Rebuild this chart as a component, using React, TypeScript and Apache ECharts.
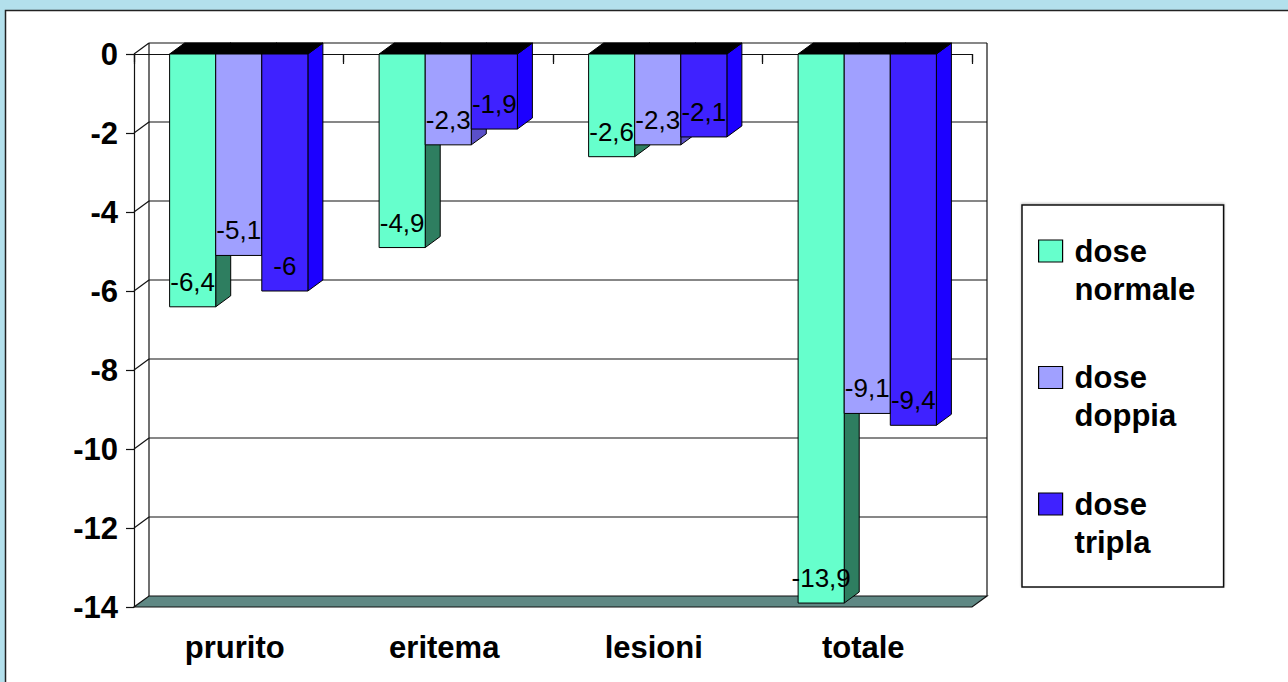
import React, { useEffect, useRef } from 'react';
import * as echarts from 'echarts';

const categories = ['prurito', 'eritema', 'lesioni', 'totale'];
const seriesNames = ['dose normale', 'dose doppia', 'dose tripla'];
const doseNormale = [-6.4, -4.9, -2.6, -13.9];
const doseDoppia = [-5.1, -2.3, -2.3, -9.1];
const doseTripla = [-6, -1.9, -2.1, -9.4];
const yTicks = [0, -2, -4, -6, -8, -10, -12, -14];

const seriesValues = [doseNormale, doseDoppia, doseTripla];
const frontColors = ['#66FFCC', '#A0A0FF', '#3F22FF'];
const sideColors = ['#2E7E60', '#5A50C8', '#1C00FF'];

const DX = 15;
const DY = -11;
const FONT = "'Liberation Sans', Arial, Helvetica, sans-serif";

const fmt = (v: number) => String(v).replace('.', ',');

function makeBarRender(si: number) {
  return (params: any, api: any) => {
    const cat = api.value(0);
    const val = api.value(1);
    const base = api.coord([cat, 0]);
    const end = api.coord([cat, val]);
    const catW = api.size([1, 0])[0];
    const bw = catW * 0.22;
    const x0 = base[0] - 1.5 * bw + si * bw;
    const x1 = x0 + bw;
    const y0 = base[1];
    const y1 = end[1];
    return {
      type: 'group',
      children: [
        {
          type: 'polygon',
          shape: { points: [[x1, y0], [x1 + DX, y0 + DY], [x1 + DX, y1 + DY], [x1, y1]] },
          style: { fill: sideColors[si], stroke: '#000', lineWidth: 1 },
        },
        {
          type: 'polygon',
          shape: { points: [[x0, y0], [x1, y0], [x1 + DX, y0 + DY], [x0 + DX, y0 + DY]] },
          style: { fill: '#000', stroke: '#000', lineWidth: 1 },
        },
        {
          type: 'rect',
          shape: { x: x0, y: y0, width: bw, height: y1 - y0 },
          style: { fill: frontColors[si], stroke: '#000', lineWidth: 1 },
        },
        {
          type: 'text',
          z2: 100,
          style: {
            text: fmt(val),
            x: (x0 + x1) / 2,
            y: y1 - 25,
            align: 'center',
            verticalAlign: 'middle',
            fontSize: 26,
            fontFamily: FONT,
            fill: '#000',
          },
        },
      ],
    };
  };
}

function renderWalls(params: any, api: any) {
  const cs = params.coordSys;
  const left = cs.x;
  const right = cs.x + cs.width;
  const v = api.value(1);
  const y = api.coord([0, v])[1];
  const children: any[] = [];
  const lineStyle = { stroke: '#111', lineWidth: 1.2 };
  const isFloor = v === yTicks[yTicks.length - 1];
  if (!isFloor) {
    children.push({
      type: 'line',
      shape: { x1: left + DX, y1: y + DY, x2: right + DX, y2: y + DY },
      style: lineStyle,
    });
    children.push({
      type: 'line',
      shape: { x1: left, y1: y, x2: left + DX, y2: y + DY },
      style: lineStyle,
    });
  } else {
    const top = cs.y;
    children.push({
      type: 'line',
      shape: { x1: left + DX, y1: top + DY, x2: left + DX, y2: y + DY },
      style: lineStyle,
    });
    children.push({
      type: 'line',
      shape: { x1: right + DX, y1: top + DY, x2: right + DX, y2: y + DY },
      style: lineStyle,
    });
    children.push({
      type: 'polygon',
      shape: { points: [[left, y], [right, y], [right + DX, y + DY], [left + DX, y + DY]] },
      style: { fill: '#5F8884', stroke: '#111', lineWidth: 1.2 },
    });
  }
  return { type: 'group', children };
}

export default function App() {
  const ref = useRef<HTMLDivElement>(null);
  useEffect(() => {
    if (!ref.current) return;
    const chart = echarts.init(ref.current, null, { renderer: 'svg' });
    const barSeries = seriesValues.map((vals, si) => ({
      type: 'custom',
      name: seriesNames[si],
      z: 2,
      itemStyle: { color: frontColors[si] },
      renderItem: makeBarRender(si),
      encode: { x: 0, y: 1 },
      data: vals.map((v, i) => [i, v]),
    }));
    chart.setOption({
      animation: false,
      backgroundColor: '#B3E0EC',
      graphic: {
        elements: [
          {
            type: 'rect',
            z: -10,
            shape: { x: 5.5, y: 10.5, width: 1300, height: 700 },
            style: { fill: '#fff', stroke: '#222', lineWidth: 1.5 },
          },
        ],
      },
      grid: { left: 134, right: 316, top: 54, bottom: 75, containLabel: false },
      xAxis: [
        {
          type: 'category',
          data: categories,
          position: 'bottom',
          axisLine: { show: false },
          axisTick: { show: true, length: 10, lineStyle: { color: '#111', width: 1.2 } },
          axisLabel: {
            show: true,
            margin: 25,
            fontSize: 31,
            fontWeight: 'bold',
            fontFamily: FONT,
            color: '#000',
            padding: [0, 8, 0, 0],
          },
          splitLine: { show: false },
        },
        {
          type: 'category',
          data: categories,
          position: 'top',
          axisLine: { show: true, lineStyle: { color: '#111', width: 1.2 } },
          axisTick: { show: true, inside: true, length: 8, lineStyle: { color: '#111', width: 1.2 } },
          axisLabel: { show: false },
          splitLine: { show: false },
        },
      ],
      yAxis: {
        type: 'value',
        min: -14,
        max: 0,
        interval: 2,
        axisLine: { show: true, lineStyle: { color: '#111', width: 1.2 } },
        axisTick: { show: true, length: 8, lineStyle: { color: '#111', width: 1.2 } },
        axisLabel: {
          margin: 16,
          fontSize: 31,
          fontWeight: 'bold',
          fontFamily: FONT,
          color: '#000',
        },
        splitLine: { show: false },
      },
      legend: {
        data: seriesNames,
        orient: 'vertical',
        left: 1022,
        top: 205,
        padding: [27, 24, 26, 16],
        itemGap: 50.5,
        itemWidth: 24,
        itemHeight: 60,
        icon: 'path://M0,0L24,0L24,22L0,22ZM0,60',
        itemStyle: { borderColor: '#000', borderWidth: 1.2 },
        backgroundColor: '#fff',
        borderColor: '#111',
        borderWidth: 1.5,
        shadowColor: 'rgba(0,0,0,0.25)',
        shadowBlur: 2,
        shadowOffsetX: 0,
        shadowOffsetY: -1,
        formatter: (name: string) => name.replace(' ', '\n'),
        textStyle: {
          fontSize: 31,
          fontWeight: 'bold',
          fontFamily: FONT,
          color: '#000',
          lineHeight: 38,
          width: 125,
          padding: [0, 0, 0, 7],
        },
      },
      series: [
        {
          type: 'custom',
          name: 'walls',
          z: 1,
          silent: true,
          renderItem: renderWalls,
          encode: { x: 0, y: 1 },
          data: yTicks.map((v) => [0, v]),
        },
        ...barSeries,
      ],
    });
    return () => chart.dispose();
  }, []);
  return (
    <div
      ref={ref}
      style={{ position: 'absolute', left: 0, top: 0, width: 1288, height: 682 }}
    />
  );
}
